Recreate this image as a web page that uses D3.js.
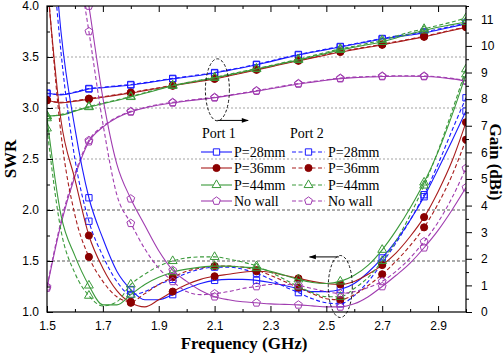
<!DOCTYPE html>
<html><head><meta charset="utf-8">
<script src="https://cdn.jsdelivr.net/npm/d3@7"></script>
<style>body{margin:0;background:#fff}svg{display:block}</style>
</head><body><svg id="c" width="504" height="353"></svg>
<script>
// ---------------- DATA ----------------
const freq = [1.50,1.55,1.60,1.65,1.70,1.75,1.80,1.85,1.90,1.95,2.00,2.05,2.10,2.15,2.20,2.25,2.30,2.35,2.40,2.45,2.50,2.55,2.60,2.65,2.70,2.75,2.80,2.85,2.90,2.95,3.00];
const xTickLabels = [1.5,1.7,1.9,2.1,2.3,2.5,2.7,2.9];
const swrTickLabels = [1.0,1.5,2.0,2.5,3.0,3.5,4.0];
const gainTickLabels = [0,1,2,3,4,5,6,7,8,9,10,11];
const swrGrid = [1.5,2.0,2.5,3.0,3.5];
const seriesNames = ["P=28mm","P=36mm","P=44mm","No wall"];

// SWR (left axis)
const swrP1_28 = [5.5,3.75,2.8,2.12,1.72,1.4,1.22,1.12,1.12,1.17, 1.23,1.28,1.31,1.32,1.32,1.31,1.29,1.26,1.23,1.2, 1.2,1.22,1.28,1.39,1.53,1.7,1.9,2.13,2.4,2.68, 2.97];
const swrP2_28 = [5.2,3.55,2.5,1.89,1.55,1.3,1.17,1.2,1.27,1.32, 1.38,1.42,1.44,1.44,1.42,1.38,1.32,1.25,1.19,1.13, 1.09,1.08,1.16,1.3,1.48,1.68,1.9,2.15,2.45,2.78, 3.1];
const swrP1_36 = [4.25,2.88,2.3,1.75,1.43,1.21,1.09,1.05,1.12,1.2, 1.27,1.32,1.35,1.37,1.39,1.4,1.39,1.36,1.33,1.3, 1.28,1.27,1.3,1.37,1.46,1.58,1.74,1.93,2.18,2.48, 2.86];
const swrP2_36 = [4.3,2.75,1.95,1.54,1.3,1.15,1.1,1.18,1.27,1.34, 1.4,1.43,1.45,1.45,1.44,1.41,1.36,1.3,1.24,1.18, 1.13,1.12,1.17,1.26,1.37,1.5,1.65,1.83,2.06,2.34, 2.69];
const swrP1_44 = [2.9,1.95,1.55,1.26,1.07,1.07,1.17,1.27,1.34,1.39, 1.42,1.44,1.45,1.45,1.44,1.43,1.4,1.36,1.32,1.29, 1.28,1.3,1.36,1.46,1.61,1.8,2.02,2.27,2.57,2.93, 3.33];
const swrP2_44 = [2.8,1.8,1.38,1.16,1.06,1.1,1.27,1.37,1.45,1.5, 1.53,1.54,1.54,1.52,1.49,1.45,1.39,1.32,1.25,1.19, 1.15,1.15,1.23,1.34,1.5,1.7,1.95,2.24,2.58,2.97, 3.38];
const swrP1_nw = [6.6,5.7,4.85,4.0,3.1,2.45,2.11,1.85,1.6,1.41, 1.3,1.21,1.15,1.12,1.1,1.09,1.08,1.075,1.07,1.06, 1.05,1.05,1.08,1.15,1.25,1.36,1.48,1.63,1.8,2.0, 2.22];
const swrP2_nw = [6.4,5.5,4.6,3.75,2.85,2.15,1.87,1.62,1.43,1.3, 1.2,1.17,1.18,1.2,1.23,1.25,1.27,1.27,1.26,1.23, 1.2,1.18,1.2,1.24,1.3,1.4,1.53,1.69,1.88,2.12, 2.41];

// Gain (right axis, dBi)
const gainP1_28 = [8.23,8.16,8.25,8.38,8.43,8.48,8.53,8.6,8.68,8.76, 8.83,8.9,8.98,9.08,9.18,9.29,9.41,9.54,9.66,9.76, 9.86,9.96,10.06,10.16,10.26,10.34,10.41,10.49,10.6,10.71, 10.83];
const gainP2_28 = [8.2,8.18,8.27,8.4,8.45,8.5,8.55,8.62,8.7,8.78, 8.85,8.92,9.0,9.1,9.2,9.31,9.43,9.56,9.68,9.78, 9.88,9.98,10.08,10.18,10.28,10.37,10.45,10.53,10.63,10.74, 10.86];
const gainP1_36 = [7.97,7.86,7.92,8.0,8.07,8.15,8.23,8.32,8.41,8.5, 8.59,8.67,8.76,8.87,8.98,9.1,9.21,9.33,9.44,9.55, 9.66,9.77,9.86,9.95,10.04,10.14,10.24,10.34,10.46,10.58, 10.7];
const gainP2_36 = [7.95,7.88,7.94,8.02,8.09,8.17,8.25,8.34,8.43,8.52, 8.61,8.69,8.78,8.89,9.0,9.12,9.23,9.35,9.46,9.57, 9.68,9.79,9.88,9.97,10.06,10.16,10.26,10.36,10.48,10.6, 10.72];
const gainP1_44 = [7.37,7.4,7.55,7.7,7.83,7.95,8.08,8.22,8.36,8.5, 8.6,8.7,8.8,8.91,9.02,9.13,9.24,9.36,9.47,9.6, 9.72,9.85,9.95,10.05,10.15,10.3,10.45,10.58,10.7,10.8, 10.9];
const gainP2_44 = [7.35,7.42,7.57,7.72,7.85,7.97,8.1,8.24,8.38,8.52, 8.62,8.72,8.82,8.93,9.04,9.15,9.26,9.38,9.5,9.63, 9.76,9.89,9.99,10.1,10.22,10.37,10.52,10.64,10.77,10.9, 11.05];
const gainP1_nw = [0.9,3.3,5.1,6.4,6.95,7.3,7.52,7.67,7.78,7.86, 7.93,7.99,8.05,8.13,8.21,8.3,8.39,8.48,8.57,8.64, 8.71,8.77,8.81,8.83,8.85,8.86,8.86,8.85,8.82,8.76, 8.68];
const gainP2_nw = [0.95,3.4,5.2,6.45,6.98,7.32,7.54,7.69,7.8,7.88, 7.95,8.01,8.07,8.15,8.23,8.32,8.41,8.5,8.59,8.66, 8.73,8.79,8.83,8.85,8.87,8.88,8.88,8.87,8.84,8.78, 8.7];

// ---------------- STYLE / LAYOUT ----------------
const L = 47, R = 466, T = 6, B = 312;
const colors = {"P=28mm":"#1a1aff","P=36mm":"#a81c1c","P=44mm":"#3a9a3a","No wall":"#a03cb0"};
const markFill = {"P=28mm":"none","P=36mm":"#8b0000","P=44mm":"none","No wall":"none"};
const markStroke = {"P=28mm":"#1a1aff","P=36mm":"#8b0000","P=44mm":"#3a9a3a","No wall":"#a03cb0"};

const pentagon = {draw(ctx, size){
  const r = Math.sqrt(size / 2.378);
  for (let i = 0; i < 5; i++) {
    const a = -Math.PI/2 + i*2*Math.PI/5;
    const px = r*Math.cos(a), py = r*Math.sin(a);
    if (i === 0) ctx.moveTo(px, py); else ctx.lineTo(px, py);
  }
  ctx.closePath();
}};
const symType = {"P=28mm":d3.symbolSquare,"P=36mm":d3.symbolCircle,"P=44mm":d3.symbolTriangle,"No wall":pentagon};
const symSize = {"P=28mm":40,"P=36mm":40,"P=44mm":34,"No wall":40};

const swrSeries = [
  {name:"P=28mm", port:1, v:swrP1_28},{name:"P=28mm", port:2, v:swrP2_28},
  {name:"P=36mm", port:1, v:swrP1_36},{name:"P=36mm", port:2, v:swrP2_36},
  {name:"P=44mm", port:1, v:swrP1_44},{name:"P=44mm", port:2, v:swrP2_44},
  {name:"No wall", port:1, v:swrP1_nw},{name:"No wall", port:2, v:swrP2_nw}
];
const gainSeries = [
  {name:"P=28mm", port:1, v:gainP1_28},{name:"P=28mm", port:2, v:gainP2_28},
  {name:"P=36mm", port:1, v:gainP1_36},{name:"P=36mm", port:2, v:gainP2_36},
  {name:"P=44mm", port:1, v:gainP1_44},{name:"P=44mm", port:2, v:gainP2_44},
  {name:"No wall", port:1, v:gainP1_nw},{name:"No wall", port:2, v:gainP2_nw}
];

const svg = d3.select("#c");
const x = d3.scaleLinear().domain([1.5, 3.0]).range([L, R]);
const yS = d3.scaleLinear().domain([1.0, 4.0]).range([B, T]);
const yG = d3.scaleLinear().domain([0, 11.5]).range([B, T]);

const defs = svg.append("defs");
defs.append("clipPath").attr("id","plot")
  .append("rect").attr("x",L).attr("y",T).attr("width",R-L).attr("height",B-T);
defs.append("marker").attr("id","arr").attr("viewBox","0 0 10 10")
  .attr("refX",9).attr("refY",5).attr("markerWidth",8).attr("markerHeight",7).attr("orient","auto")
  .attr("markerUnits","userSpaceOnUse")
  .append("path").attr("d","M0,1.5 L10,5 L0,8.5 Z").attr("fill","#000");

// grid
svg.append("g").selectAll("line").data(swrGrid).join("line")
  .attr("x1",L).attr("x2",R).attr("y1",d=>yS(d)).attr("y2",d=>yS(d))
  .attr("stroke",d=> d<=2.0 ? "#444" : "#999").attr("stroke-width",0.9)
  .attr("stroke-dasharray",d=> d<=2.0 ? "3,2" : "2,2");

const plot = svg.append("g").attr("clip-path","url(#plot)");

function drawSeries(list, yScale){
  list.forEach(s => {
    const pts = freq.map((f,i)=>[f, s.v[i]]);
    const line = d3.line().x(d=>x(d[0])).y(d=>yScale(d[1])).curve(d3.curveMonotoneX);
    plot.append("path").attr("d", line(pts)).attr("fill","none")
      .attr("stroke", colors[s.name]).attr("stroke-width",1.1)
      .attr("stroke-dasharray", s.port===2 ? "4,2.5" : null);
    const mk = pts.filter((d,i)=> i%3===0);
    plot.append("g").selectAll("path").data(mk).join("path")
      .attr("transform", d=>`translate(${x(d[0])},${yScale(d[1])})`)
      .attr("d", d3.symbol().type(symType[s.name]).size(symSize[s.name])())
      .attr("fill", markFill[s.name]).attr("stroke", markStroke[s.name]).attr("stroke-width",1);
  });
}
drawSeries(gainSeries, yG);
drawSeries(swrSeries, yS);

// axes
const fontSans = "'Liberation Sans', Arial, sans-serif";
const fontSerif = "'Liberation Serif', 'Times New Roman', serif";
function styleAxis(g){
  g.select(".domain").remove();
  g.selectAll("line").attr("stroke","#000");
  g.selectAll("text").attr("font-family",fontSans).attr("font-size",12).attr("fill","#000");
}
const xMinor = [1.6,1.8,2.0,2.2,2.4,2.6,2.8,3.0];
svg.append("g").attr("transform",`translate(0,${B})`)
  .call(d3.axisBottom(x).tickValues(xTickLabels).tickSize(-6).tickPadding(9).tickFormat(d3.format(".1f"))).call(styleAxis);
svg.append("g").attr("transform",`translate(0,${B})`)
  .call(d3.axisBottom(x).tickValues(xMinor).tickSize(-3).tickFormat("")).call(styleAxis);
svg.append("g").attr("transform",`translate(0,${T})`)
  .call(d3.axisTop(x).tickValues(xTickLabels).tickSize(-6).tickFormat("")).call(styleAxis);
svg.append("g").attr("transform",`translate(0,${T})`)
  .call(d3.axisTop(x).tickValues(xMinor).tickSize(-3).tickFormat("")).call(styleAxis);

const sMinor = [1.25,1.75,2.25,2.75,3.25,3.75];
svg.append("g").attr("transform",`translate(${L},0)`)
  .call(d3.axisLeft(yS).tickValues(swrTickLabels).tickSize(-6).tickPadding(8).tickFormat(d3.format(".1f"))).call(styleAxis);
svg.append("g").attr("transform",`translate(${L},0)`)
  .call(d3.axisLeft(yS).tickValues(sMinor).tickSize(-3).tickFormat("")).call(styleAxis);

const gMinor = [0.5,1.5,2.5,3.5,4.5,5.5,6.5,7.5,8.5,9.5,10.5,11.5];
svg.append("g").attr("transform",`translate(${R},0)`)
  .call(d3.axisRight(yG).tickValues(gainTickLabels).tickSize(6).tickPadding(9).tickFormat(d3.format("d"))).call(styleAxis);
svg.append("g").attr("transform",`translate(${R},0)`)
  .call(d3.axisRight(yG).tickValues(gMinor).tickSize(3).tickFormat("")).call(styleAxis);

// frame
svg.append("rect").attr("x",L).attr("y",T).attr("width",R-L).attr("height",B-T)
  .attr("fill","none").attr("stroke","#000").attr("stroke-width",1.2);

// axis titles
svg.append("text").attr("x",244).attr("y",349).attr("text-anchor","middle")
  .attr("font-family",fontSerif).attr("font-weight","bold").attr("font-size",17).text("Frequency (GHz)");
svg.append("text").attr("transform",`translate(16,${(T+B)/2}) rotate(-90)`).attr("text-anchor","middle")
  .attr("font-family",fontSerif).attr("font-weight","bold").attr("font-size",17).text("SWR");
svg.append("text").attr("transform",`translate(490,${(T+B)/2+3}) rotate(90)`).attr("text-anchor","middle")
  .attr("font-family",fontSerif).attr("font-weight","bold").attr("font-size",17).text("Gain (dBi)");

// annotations: ellipses and arrows
svg.append("ellipse").attr("cx",x(2.11)).attr("cy",yG(8.35)).attr("rx",12).attr("ry",31)
  .attr("fill","none").attr("stroke","#000").attr("stroke-width",0.9).attr("stroke-dasharray","3,2");
svg.append("line").attr("x1",x(2.11)).attr("y1",yG(7.2)).attr("x2",x(2.22)).attr("y2",yG(7.2))
  .attr("stroke","#000").attr("stroke-width",1).attr("marker-end","url(#arr)");
svg.append("ellipse").attr("cx",x(2.55)).attr("cy",yS(1.25)).attr("rx",12).attr("ry",31)
  .attr("fill","none").attr("stroke","#000").attr("stroke-width",0.9).attr("stroke-dasharray","3,2");
svg.append("line").attr("x1",x(2.545)).attr("y1",yS(1.54)).attr("x2",x(2.44)).attr("y2",yS(1.54))
  .attr("stroke","#000").attr("stroke-width",1).attr("marker-end","url(#arr)");

// legend
const leg = svg.append("g").attr("font-family",fontSerif).attr("font-size",14).attr("fill","#000");
leg.append("text").attr("x",202).attr("y",138).text("Port 1");
leg.append("text").attr("x",290).attr("y",138).text("Port 2");
const rowY = [152,168,185,201];
seriesNames.forEach((n,i)=>{
  [{x0:201,x1:232,tx:234,dash:null},{x0:292,x1:325,tx:328,dash:"4,2.5"}].forEach(c=>{
    leg.append("line").attr("x1",c.x0).attr("x2",c.x1).attr("y1",rowY[i]).attr("y2",rowY[i])
      .attr("stroke",colors[n]).attr("stroke-width",1.1).attr("stroke-dasharray",c.dash);
    leg.append("path").attr("transform",`translate(${(c.x0+c.x1)/2},${rowY[i]})`)
      .attr("d", d3.symbol().type(symType[n]).size(symSize[n])())
      .attr("fill", markFill[n]==="none" ? "#fff" : markFill[n]).attr("stroke",markStroke[n]);
    leg.append("text").attr("x",c.tx).attr("y",rowY[i]+5).text(n);
  });
});
</script></body></html>
